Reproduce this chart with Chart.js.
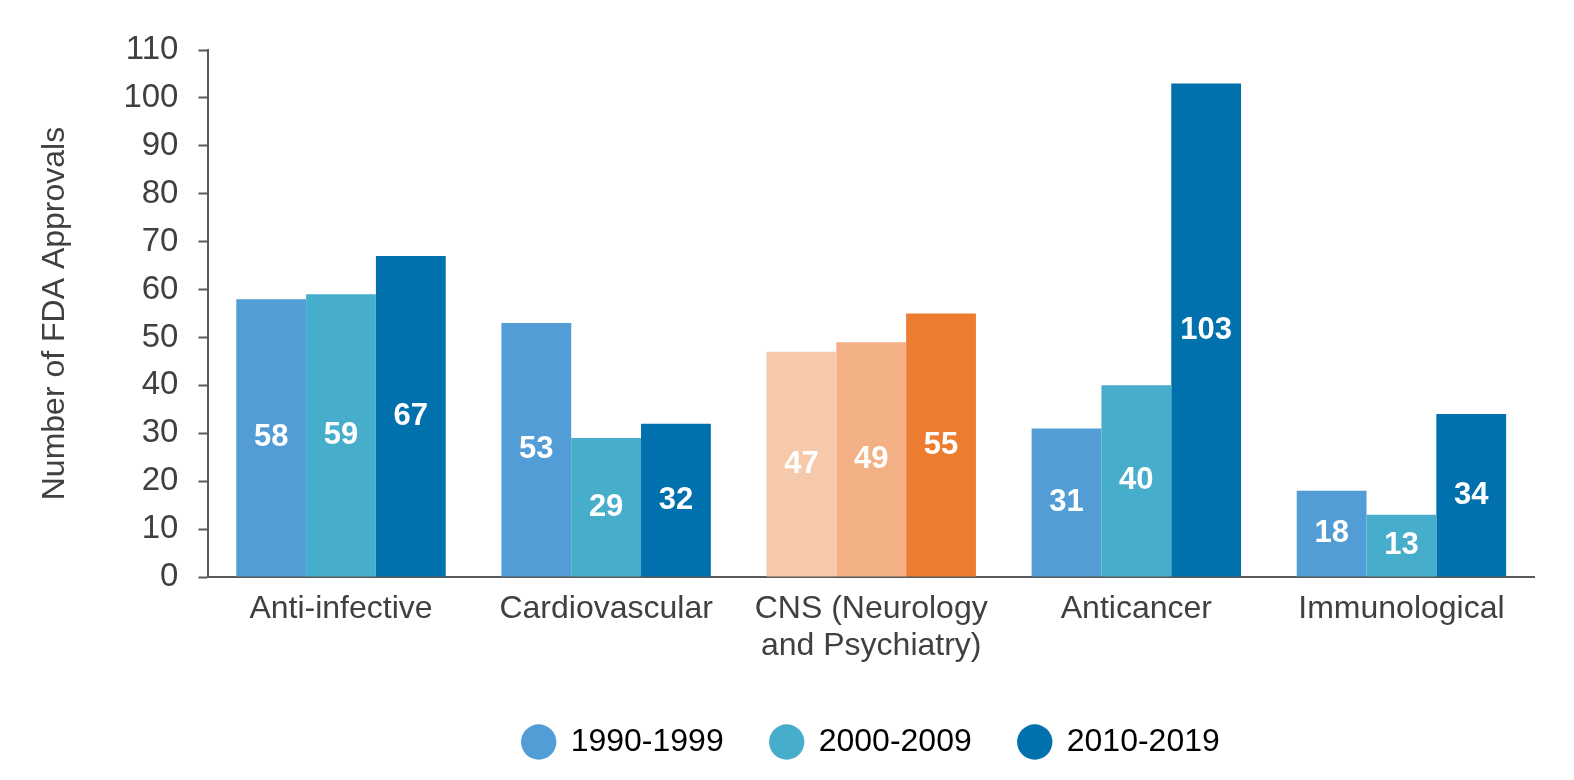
<!DOCTYPE html>
<html>
<head>
<meta charset="utf-8">
<script src="https://cdn.jsdelivr.net/npm/chart.js@4/dist/chart.umd.min.js"></script>
<style>
  html, body { margin: 0; padding: 0; background: #fff; }
  #wrap { width: 1574px; height: 780px; }
</style>
</head>
<body>
<div id="wrap"><canvas id="approvalsChart"></canvas></div>
<script>
const categories = ['Anti-infective', 'Cardiovascular', ['CNS (Neurology', 'and Psychiatry)'], 'Anticancer', 'Immunological'];
const seriesNames = ['1990-1999', '2000-2009', '2010-2019'];
const values1990s = [58, 53, 47, 31, 18];
const values2000s = [59, 29, 49, 40, 13];
const values2010s = [67, 32, 55, 103, 34];
const blues = ['#529dd5', '#46aecb', '#0071ad'];
const oranges = ['#f6c9ab', '#f3b084', '#ec7c30'];
const highlightIndex = 2;
const fontFamily = 'Liberation Sans, Arial, sans-serif';

function barColors(i) {
    return categories.map((c, k) => k === highlightIndex ? oranges[i] : blues[i]);
}

// white value labels in the middle of each bar
const barLabels = {
    id: 'barLabels',
    afterDatasetsDraw(chart) {
        const ctx = chart.ctx;
        ctx.save();
        ctx.fillStyle = '#ffffff';
        ctx.font = 'bold 31px ' + fontFamily;
        ctx.textAlign = 'center';
        ctx.textBaseline = 'middle';
        chart.data.datasets.forEach((ds, i) => {
            chart.getDatasetMeta(i).data.forEach((bar, j) => {
                const mid = (bar.y + bar.base) / 2;
                ctx.fillText(ds.data[j], bar.x, mid);
            });
        });
        ctx.restore();
    }
};

// center the legend under the plot area rather than the whole canvas
const legendUnderPlot = {
    id: 'legendUnderPlot',
    afterLayout(chart) {
        const lg = chart.legend;
        const w = lg.right - lg.left;
        const mid = (chart.chartArea.left + chart.chartArea.right) / 2;
        lg.left = mid - w / 2;
        lg.right = mid + w / 2;
    }
};

const ctx = document.getElementById('approvalsChart').getContext('2d');
new Chart(ctx, {
    type: 'bar',
    data: {
        labels: categories,
        datasets: [
            { label: seriesNames[0], data: values1990s, backgroundColor: barColors(0) },
            { label: seriesNames[1], data: values2000s, backgroundColor: barColors(1) },
            { label: seriesNames[2], data: values2010s, backgroundColor: barColors(2) }
        ]
    },
    options: {
        responsive: true,
        maintainAspectRatio: false,
        animation: false,
        datasets: {
            bar: {
                categoryPercentage: 0.79,
                barPercentage: 1.0
            }
        },
        layout: {
            padding: { left: 20, right: 40, top: 50, bottom: 12 }
        },
        scales: {
            x: {
                grid: { display: false, drawTicks: false },
                border: { color: '#595959', width: 2 },
                ticks: {
                    color: '#404040',
                    padding: 14,
                    font: { family: fontFamily, size: 32, lineHeight: 1.156 }
                }
            },
            y: {
                min: 0,
                max: 110,
                grid: { display: true, drawOnChartArea: false, drawTicks: true, tickLength: 10, tickColor: '#595959', tickWidth: 2 },
                border: { color: '#595959', width: 2 },
                ticks: {
                    stepSize: 10,
                    color: '#404040',
                    padding: 20,
                    font: { family: fontFamily, size: 33 }
                },
                title: {
                    display: true,
                    text: 'Number of FDA Approvals',
                    color: '#404040',
                    padding: { top: 16, bottom: 29 },
                    font: { family: fontFamily, size: 32 }
                }
            }
        },
        plugins: {
            legend: {
                position: 'bottom',
                labels: {
                    usePointStyle: true,
                    pointStyle: 'circle',
                    boxWidth: 32,
                    boxHeight: 25,
                    padding: 47,
                    color: '#404040',
                    font: { family: fontFamily, size: 32 },
                    generateLabels(chart) {
                        return seriesNames.map((name, i) => ({
                            text: name,
                            fillStyle: blues[i],
                            strokeStyle: blues[i],
                            lineWidth: 0,
                            pointStyle: 'circle',
                            datasetIndex: i,
                            hidden: false
                        }));
                    }
                }
            },
            tooltip: { enabled: false }
        }
    },
    plugins: [barLabels, legendUnderPlot]
});
</script>
</body>
</html>
